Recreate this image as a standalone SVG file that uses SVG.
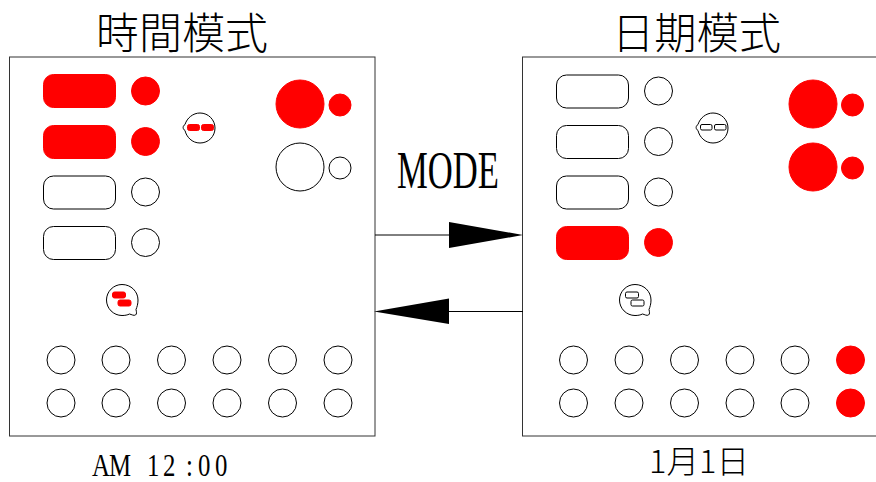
<svg xmlns="http://www.w3.org/2000/svg" width="876" height="482" viewBox="0 0 876 482">
<style>
.o{fill:#fff;stroke:#000;stroke-width:1}
.on{fill:#f00;stroke:#f00;stroke-width:1}
.box{fill:#fff;stroke:#333;stroke-width:1}
.line{stroke:#000;stroke-width:1;fill:none}
.head{fill:#000;stroke:none}
.cjk{font-family:"Noto Sans CJK TC","Liberation Serif",serif;font-weight:300;fill:#000}
.lat{font-family:"Liberation Serif","Noto Sans CJK TC",serif;fill:#000}
</style>
<defs>
<rect id="pill" width="72" height="33" rx="10" ry="10"/>
<circle id="dot" r="14"/>
</defs>
<rect width="876" height="482" fill="#fff"/>
<text class="cjk" x="96" y="49" font-size="43" textLength="172" lengthAdjust="spacingAndGlyphs">時間模式</text>
<text class="cjk" x="612" y="49" font-size="43" textLength="169" lengthAdjust="spacingAndGlyphs">日期模式</text>
<text class="lat" x="397" y="188" font-size="53" textLength="102" lengthAdjust="spacingAndGlyphs">MODE</text>
<text class="lat" transform="translate(0 476) scale(0.8 1)" y="0" font-size="31" x="115 136.300 165 183.750 203.750 232.500 247.500 268.750">AM 12:00</text>
<text class="cjk" x="649" y="473" font-size="32" textLength="100" lengthAdjust="spacingAndGlyphs">1月1日</text>
<g id="panel-time">
<rect class="box" x="9.500" y="57" width="365.500" height="379"/>
<use href="#pill" class="on" x="43.500" y="74.500"/><use href="#pill" class="on" x="43.500" y="125.500"/>
<use href="#pill" class="o" x="43.500" y="176"/><use href="#pill" class="o" x="43.500" y="226.500"/>
<use href="#dot" class="on" x="145.500" y="91"/><use href="#dot" class="on" x="145.500" y="141.500"/>
<use href="#dot" class="o" x="145.500" y="192"/><use href="#dot" class="o" x="145.500" y="242.500"/>
<circle class="on" cx="300" cy="104" r="24"/><circle class="on" cx="340" cy="105" r="11"/>
<circle class="o" cx="300" cy="167" r="24"/><circle class="o" cx="340" cy="168" r="11"/>
<path class="o" d="M185 124.500C187 118 193 113 200 113C208.500 113 215 120 215 128C215 136.500 208.500 143 200 143C192 143 186.500 137 185 130.500C182.500 129 182.500 126 185 124.500Z"/>
<rect class="on" x="187.500" y="124.500" width="12" height="6" rx="2"/><rect class="on" x="201.500" y="124.500" width="12" height="6" rx="2"/>
<path class="o" d="M122 284.500C131 284.500 138 291.500 138 300C138 304 137 307 136 309.500C136.500 312 137 314 135.500 315C134 316 131.500 314.500 129.500 314C127.500 315 125 315.500 122 315.500C113.500 315.500 106.500 308.500 106.500 300C106.500 291.500 113.500 284.500 122 284.500Z"/>
<rect class="on" x="112.500" y="292" width="13" height="6" rx="2"/><rect class="on" x="118" y="300" width="13" height="6" rx="2"/>
<g id="keys-time" class="o">
<use href="#dot" x="61" y="360"/><use href="#dot" x="116" y="360"/><use href="#dot" x="171.500" y="360"/><use href="#dot" x="227" y="360"/><use href="#dot" x="282.500" y="360"/><use href="#dot" x="338" y="360"/>
<use href="#dot" x="61" y="403"/><use href="#dot" x="116" y="403"/><use href="#dot" x="171.500" y="403"/><use href="#dot" x="227" y="403"/><use href="#dot" x="282.500" y="403"/><use href="#dot" x="338" y="403"/>
</g>
</g>
<g id="panel-date">
<rect class="box" x="522.500" y="57" width="365.500" height="379"/>
<use href="#pill" class="o" x="556.500" y="75"/><use href="#pill" class="o" x="556.500" y="125.500"/>
<use href="#pill" class="o" x="556.500" y="176"/><use href="#pill" class="on" x="556.500" y="226.500"/>
<use href="#dot" class="o" x="658.500" y="91"/><use href="#dot" class="o" x="658.500" y="141.500"/>
<use href="#dot" class="o" x="658.500" y="192"/><use href="#dot" class="on" x="658.500" y="242.500"/>
<circle class="on" cx="813" cy="104" r="24"/><circle class="on" cx="852.500" cy="105" r="11"/>
<circle class="on" cx="813" cy="167" r="24"/><circle class="on" cx="852.500" cy="168" r="11"/>
<path class="o" d="M698 124.500C700 118 706 113 713 113C721.500 113 728 120 728 128C728 136.500 721.500 143 713 143C705 143 699.500 137 698 130.500C695.500 129 695.500 126 698 124.500Z"/>
<rect class="o" x="700.500" y="124.500" width="11.500" height="5.500" rx="1.500"/><rect class="o" x="714.500" y="124.500" width="11.500" height="5.500" rx="1.500"/>
<path class="o" d="M635 284.500C644 284.500 651 291.500 651 300C651 304 650 307 649 309.500C649.500 312 650 314 648.500 315C647 316 644.500 314.500 642.500 314C640.500 315 638 315.500 635 315.500C626.500 315.500 619.500 308.500 619.500 300C619.500 291.500 626.500 284.500 635 284.500Z"/>
<rect class="o" x="625.500" y="292" width="13" height="6" rx="1.500"/><rect class="o" x="631" y="300" width="13" height="6" rx="1.500"/>
<g id="keys-date" class="o">
<use href="#dot" x="573.500" y="360"/><use href="#dot" x="629" y="360"/><use href="#dot" x="684.500" y="360"/><use href="#dot" x="740" y="360"/><use href="#dot" x="795" y="360"/><use href="#dot" class="on" x="850.500" y="360"/>
<use href="#dot" x="573.500" y="403"/><use href="#dot" x="629" y="403"/><use href="#dot" x="684.500" y="403"/><use href="#dot" x="740" y="403"/><use href="#dot" x="795" y="403"/><use href="#dot" class="on" x="850.500" y="403"/>
</g>
</g>
<g id="connectors">
<path class="line" d="M375 235H450"/><polygon class="head" points="449,222 523,235 449,248"/>
<path class="line" d="M523 311.500H448"/><polygon class="head" points="449,298.500 374,311.500 449,324"/>
</g>
</svg>
